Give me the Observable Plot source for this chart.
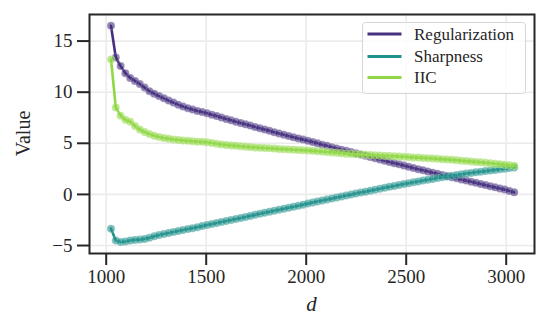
<!DOCTYPE html>
<html>
<head>
<meta charset="utf-8">
<script src="https://cdn.jsdelivr.net/npm/d3@7"></script>
<script src="https://cdn.jsdelivr.net/npm/@observablehq/plot@0.6"></script>
<style>
  html, body { margin: 0; padding: 0; background: #fff; }
  #chart { position: relative; width: 549px; height: 335px; }
  #chart svg, #chart svg text { font-family: "Liberation Serif", serif !important; }
</style>
</head>
<body>
<div id="chart"></div>
<script>
const d = [1024, 1048, 1072, 1096, 1120, 1144, 1168, 1192, 1216, 1240, 1264, 1288, 1312, 1336, 1360, 1384, 1408, 1432, 1456, 1480,
  1504, 1528, 1552, 1576, 1600, 1624, 1648, 1672, 1696, 1720, 1744, 1768, 1792, 1816, 1840, 1864, 1888, 1912, 1936, 1960,
  1984, 2008, 2032, 2056, 2080, 2104, 2128, 2152, 2176, 2200, 2224, 2248, 2272, 2296, 2320, 2344, 2368, 2392, 2416, 2440,
  2464, 2488, 2512, 2536, 2560, 2584, 2608, 2632, 2656, 2680, 2704, 2728, 2752, 2776, 2800, 2824, 2848, 2872, 2896, 2920,
  2944, 2968, 2992, 3016, 3040];

const regularization = [16.5, 13.4, 12.55, 11.85, 11.4, 11.1, 10.8, 10.45, 10.1, 9.85, 9.62, 9.4, 9.18, 8.98, 8.78, 8.6, 8.44, 8.3, 8.17, 8.06,
  7.95, 7.8, 7.66, 7.52, 7.38, 7.25, 7.12, 6.99, 6.86, 6.73, 6.6, 6.47, 6.35, 6.22, 6.09, 5.97, 5.84, 5.72, 5.6, 5.48,
  5.36, 5.24, 5.12, 5.0, 4.87, 4.75, 4.62, 4.5, 4.38, 4.26, 4.14, 4.02, 3.9, 3.78, 3.66, 3.54, 3.42, 3.3, 3.18, 3.06,
  2.94, 2.82, 2.7, 2.59, 2.47, 2.36, 2.24, 2.13, 2.02, 1.9, 1.79, 1.68, 1.57, 1.46, 1.35, 1.24, 1.13, 1.02, 0.91, 0.8,
  0.69, 0.58, 0.47, 0.34, 0.2];

const sharpness = [-3.35, -4.5, -4.65, -4.6, -4.5, -4.45, -4.42, -4.35, -4.25, -4.1, -3.98, -3.88, -3.78, -3.68, -3.58, -3.48, -3.39, -3.3, -3.2, -3.1,
  -3.0, -2.9, -2.8, -2.7, -2.6, -2.5, -2.4, -2.3, -2.2, -2.1, -2.0, -1.9, -1.8, -1.7, -1.6, -1.5, -1.4, -1.3, -1.2, -1.1,
  -1.0, -0.9, -0.8, -0.7, -0.6, -0.5, -0.41, -0.31, -0.21, -0.11, -0.02, 0.08, 0.18, 0.27, 0.37, 0.46, 0.56, 0.65, 0.74, 0.83,
  0.92, 1.01, 1.1, 1.19, 1.27, 1.36, 1.44, 1.52, 1.6, 1.68, 1.76, 1.83, 1.9, 1.97, 2.04, 2.1, 2.16, 2.22, 2.28, 2.34,
  2.4, 2.46, 2.52, 2.58, 2.64];

const iic = [13.2, 8.5, 7.7, 7.3, 7.12, 6.7, 6.35, 6.1, 5.9, 5.75, 5.62, 5.52, 5.44, 5.37, 5.32, 5.28, 5.24, 5.2, 5.16, 5.14,
  5.1, 5.03, 4.95, 4.88, 4.83, 4.79, 4.75, 4.71, 4.67, 4.63, 4.6, 4.57, 4.54, 4.51, 4.48, 4.45, 4.43, 4.4, 4.37, 4.34,
  4.32, 4.29, 4.26, 4.23, 4.19, 4.15, 4.11, 4.07, 4.03, 3.99, 3.96, 3.93, 3.9, 3.88, 3.85, 3.83, 3.8, 3.78, 3.76, 3.73,
  3.71, 3.68, 3.65, 3.62, 3.6, 3.57, 3.54, 3.51, 3.48, 3.45, 3.42, 3.38, 3.34, 3.3, 3.26, 3.22, 3.18, 3.14, 3.1, 3.05,
  3.0, 2.96, 2.91, 2.86, 2.81];

const seriesNames = ["Regularization", "Sharpness", "IIC"];
const seriesColors = ["#46307e", "#21918c", "#8fd744"];
const xTicks = [1000, 1500, 2000, 2500, 3000];
const yTicks = [-5, 0, 5, 10, 15];

const seriesValues = [regularization, sharpness, iic];
const data = seriesNames.map((name, s) => d.map((x, i) => ({d: x, value: seriesValues[s][i], series: name})));

const fmtY = v => (v < 0 ? "\u2212" + Math.abs(v) : String(v));
const serif = "Liberation Serif, serif";

const marks = [
  Plot.gridX(xTicks, {stroke: "#ebebeb", strokeOpacity: 1, strokeWidth: 1.6}),
  Plot.gridY(yTicks, {stroke: "#ebebeb", strokeOpacity: 1, strokeWidth: 1.6})
];
data.forEach(rows => {
  marks.push(Plot.line(rows, {x: "d", y: "value", stroke: "series", strokeWidth: 2.6}));
  marks.push(Plot.dot(rows, {x: "d", y: "value", fill: "series", r: 4, fillOpacity: 0.6,
    stroke: "white", strokeOpacity: 0.35, strokeWidth: 0.6}));
});
marks.push(Plot.frame({stroke: "#262626", strokeWidth: 2}));
marks.push(Plot.axisX(xTicks, {tickSize: 12, tickPadding: 4, strokeWidth: 2, stroke: "#262626",
  fontSize: 19, fontFamily: serif, tickFormat: v => String(v), label: null}));
marks.push(Plot.axisY(yTicks, {tickSize: 12, tickPadding: 5, strokeWidth: 2, stroke: "#262626",
  fontSize: 19, fontFamily: serif, tickFormat: fmtY, label: null}));

const chart = Plot.plot({
  width: 549,
  height: 335,
  marginLeft: 89,
  marginRight: 15,
  marginTop: 14,
  marginBottom: 82,
  x: {domain: [916.5, 3141.5]},
  y: {domain: [-5.78, 17.6]},
  color: {domain: seriesNames, range: seriesColors},
  style: {fontFamily: serif, color: "#262626", background: "white", overflow: "visible"},
  marks
});
document.getElementById("chart").appendChild(chart);

const svg = d3.select(chart);
// axis labels
svg.append("text")
  .attr("transform", "translate(25,133.5) rotate(-90)")
  .attr("text-anchor", "middle").attr("dominant-baseline", "middle")
  .attr("font-size", 20).attr("fill", "#262626")
  .text("Value");
svg.append("text")
  .attr("x", 311.5).attr("y", 311)
  .attr("text-anchor", "middle")
  .attr("font-size", 21).attr("font-style", "italic").attr("fill", "#262626")
  .text("d");

// legend
const lg = svg.append("g");
lg.append("rect").attr("x", 362.5).attr("y", 22.5).attr("width", 163).attr("height", 71).attr("rx", 3)
  .attr("fill", "white").attr("fill-opacity", 0.8).attr("stroke", "#d6d6d6").attr("stroke-width", 1);
const rowsY = [34, 56.5, 77.5];
seriesNames.forEach((name, i) => {
  lg.append("line").attr("x1", 367.5).attr("x2", 401.5).attr("y1", rowsY[i]).attr("y2", rowsY[i])
    .attr("stroke", seriesColors[i]).attr("stroke-width", 3);
  lg.append("text").attr("x", 414).attr("y", rowsY[i]).attr("dy", "0.35em")
    .attr("text-anchor", "start")
    .attr("font-size", 17).attr("fill", "#262626").text(name);
});
</script>
</body>
</html>
